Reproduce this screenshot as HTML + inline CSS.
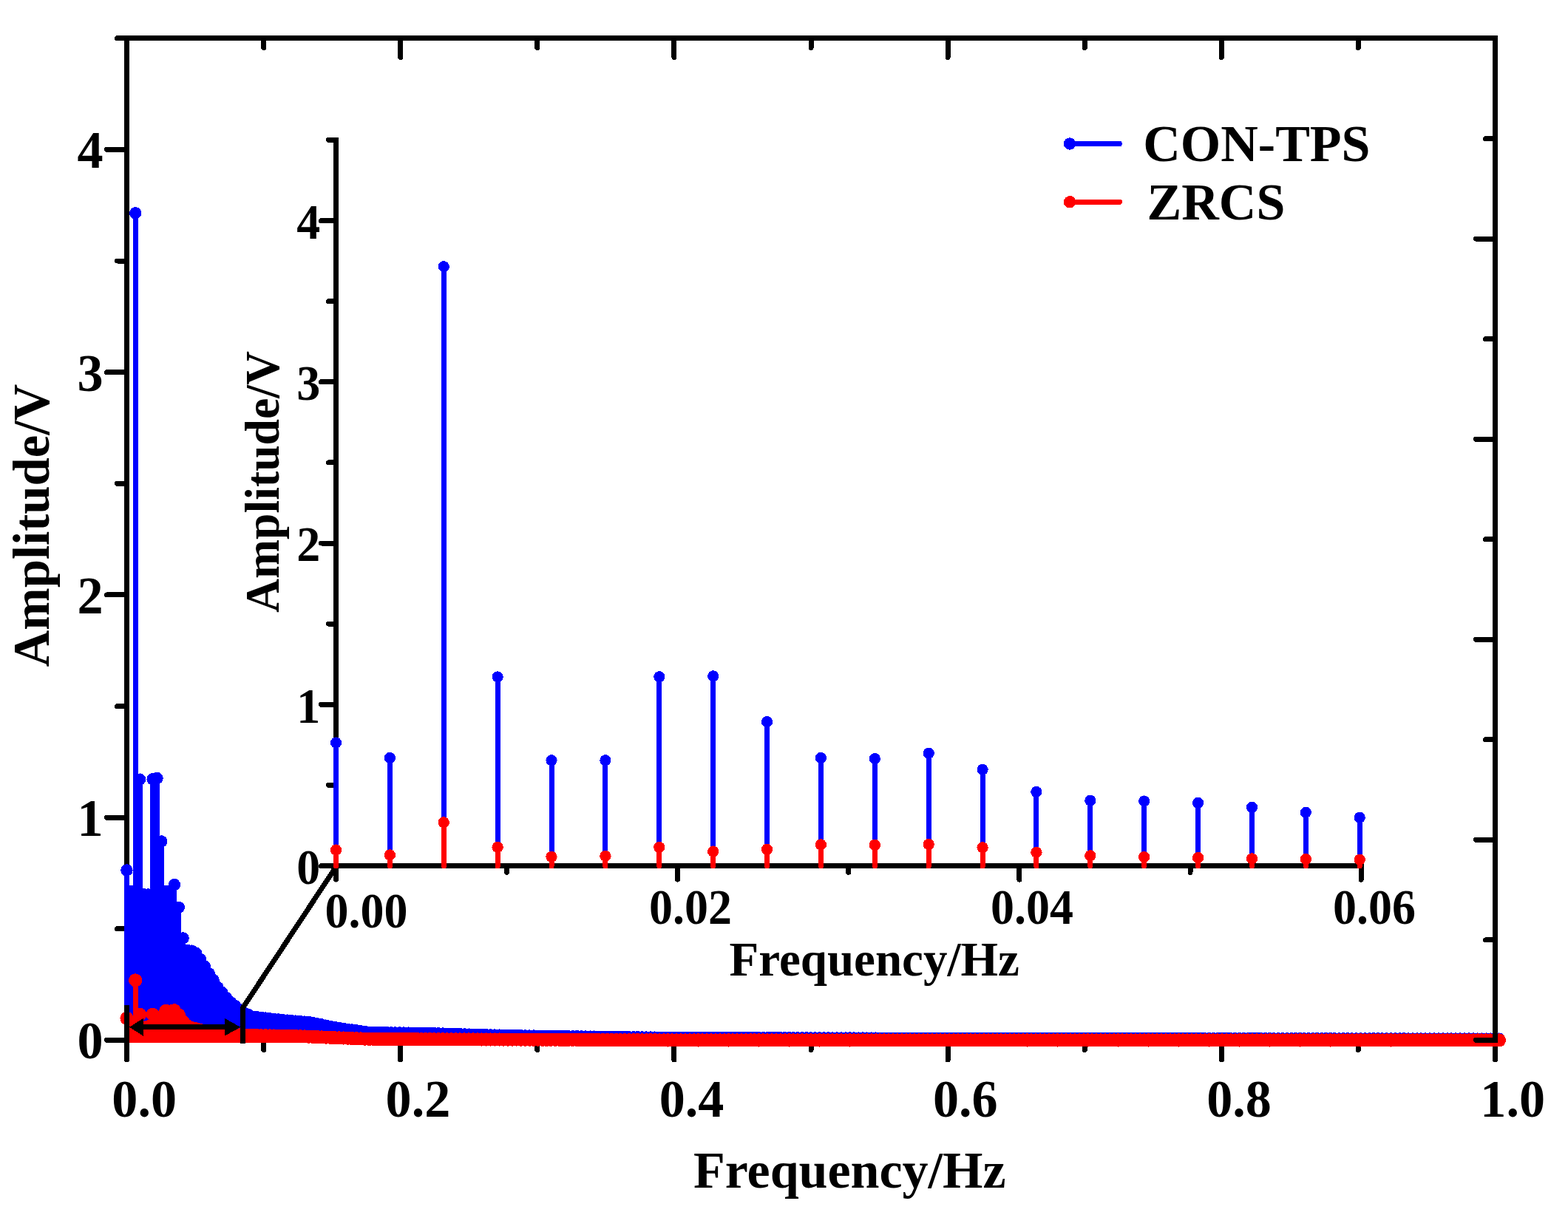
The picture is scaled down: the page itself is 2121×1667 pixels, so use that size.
<!DOCTYPE html>
<html lang="en"><head><meta charset="utf-8"><title>Amplitude spectrum</title>
<style>
html,body{margin:0;padding:0;background:#fff}
svg{display:block;shape-rendering:crispEdges}
text{font-family:"Liberation Serif","DejaVu Serif",serif;font-weight:bold;fill:#000}
.m{font-size:70px}
.i{font-size:65px}
.md{font-size:71px}
.id{font-size:67px}
.ax{stroke:#000;stroke-width:7;fill:none}
.tk{stroke:#000;stroke-width:7;stroke-linecap:round;fill:none}
</style></head>
<body>
<svg width="2121" height="1667" viewBox="0 0 2121 1667">
<rect width="2121" height="1667" fill="#fff"/>
<g id="main-axes">
<path class="ax" d="M171.5 48.1 V1410.9"/>
<path class="ax" d="M168 1407.4 H2026"/>
<path class="tk" d="M171.5 1407.4 H144.5M171.5 1256.8 H158.5M171.5 1106.2 H144.5M171.5 955.5 H158.5M171.5 804.9 H144.5M171.5 654.3 H158.5M171.5 503.7 H144.5M171.5 353 H158.5M171.5 202.4 H144.5M171.5 51.8 H158.5"/>
<path class="tk" d="M171.5 1407.4 V1434M356.6 1407.4 V1420.5M541.7 1407.4 V1434M726.8 1407.4 V1420.5M911.9 1407.4 V1434M1097 1407.4 V1420.5M1282.1 1407.4 V1434M1467.2 1407.4 V1420.5M1652.3 1407.4 V1434M1837.4 1407.4 V1420.5M2022.5 1407.4 V1434"/>
</g>
<g id="main-blue" fill="none" stroke="#0000ff">
<path stroke-width="7" stroke-linecap="butt" d="M171.5 1410.4V1177.5M177.4 1410.4V1205.9M183.2 1410.4V288.3M189.1 1410.4V1054.6M194.9 1410.4V1210.4M200.8 1410.4V1210.4M206.6 1410.4V1054.3M212.5 1410.4V1053.1M218.3 1410.4V1138.4M224.2 1410.4V1205.9M230.1 1410.4V1207.4M235.9 1410.4V1197.1M241.8 1410.4V1227.9M247.6 1410.4V1269.4M253.5 1410.4V1285.7M259.3 1410.4V1286.6M265.2 1410.4V1289.9M271.1 1410.4V1298M276.9 1410.4V1307.7M282.8 1410.4V1317.3M288.6 1410.4V1326.1M294.5 1410.4V1336M300.3 1410.4V1342.9M306.2 1410.4V1350.2M312 1410.4V1356.2M317.9 1410.4V1361M323.8 1410.4V1366.1M329.6 1410.4V1370M335.5 1410.4V1372.8M341.3 1410.4V1375.5M347.2 1410.4V1376.1M353 1410.4V1376.8M358.9 1410.4V1377.5M364.7 1410.4V1378.2M370.6 1410.4V1378.8M376.5 1410.4V1379.5M382.3 1410.4V1380.1M388.2 1410.4V1380.6M394 1410.4V1381.1M399.9 1410.4V1381.6M405.7 1410.4V1382.1M411.6 1410.4V1382.6M417.5 1410.4V1383.1M423.3 1410.4V1384.1M429.2 1410.4V1385.3M435 1410.4V1386.4M440.9 1410.4V1387.6M446.7 1410.4V1388.8M452.6 1410.4V1389.9M458.4 1410.4V1391M464.3 1410.4V1391.8M470.2 1410.4V1392.7M476 1410.4V1393.5M481.9 1410.4V1394.4M487.7 1410.4V1395.2M493.6 1410.4V1396.1M499.4 1410.4V1396.9M505.3 1410.4V1396.9M511.1 1410.4V1397M517 1410.4V1397.1M522.9 1410.4V1397.2M528.7 1410.4V1397.3M534.6 1410.4V1397.4M540.4 1410.4V1397.4M546.3 1410.4V1397.5M552.1 1410.4V1397.6M558 1410.4V1397.7M563.9 1410.4V1397.8M569.7 1410.4V1397.9M575.6 1410.4V1397.9M581.4 1410.4V1398M587.3 1410.4V1398.2M593.1 1410.4V1398.3M599 1410.4V1398.5M604.8 1410.4V1398.7M610.7 1410.4V1398.9M616.6 1410.4V1399M622.4 1410.4V1399.2M628.3 1410.4V1399.4M634.1 1410.4V1399.6M640 1410.4V1399.7M645.8 1410.4V1399.9M651.7 1410.4V1400.1M657.5 1410.4V1400.2M663.4 1410.4V1400.4M669.3 1410.4V1400.5M675.1 1410.4V1400.6M681 1410.4V1400.7M686.8 1410.4V1400.9M692.7 1410.4V1401M698.5 1410.4V1401.1M704.4 1410.4V1401.2M710.3 1410.4V1401.4M716.1 1410.4V1401.5M722 1410.4V1401.6M727.8 1410.4V1401.7M733.7 1410.4V1401.8M739.5 1410.4V1401.9M745.4 1410.4V1401.9M751.2 1410.4V1402M757.1 1410.4V1402.1M763 1410.4V1402.1M768.8 1410.4V1402.2M774.7 1410.4V1402.3M780.5 1410.4V1402.3M786.4 1410.4V1402.4M792.2 1410.4V1402.5M798.1 1410.4V1402.6M803.9 1410.4V1402.6M809.8 1410.4V1402.7M815.7 1410.4V1402.8M821.5 1410.4V1402.8M827.4 1410.4V1402.9M833.2 1410.4V1403M839.1 1410.4V1403M844.9 1410.4V1403.1M850.8 1410.4V1403.2M856.7 1410.4V1403.3M862.5 1410.4V1403.3M868.4 1410.4V1403.4M874.2 1410.4V1403.5M880.1 1410.4V1403.5M885.9 1410.4V1403.6M891.8 1410.4V1403.7M897.6 1410.4V1403.7M903.5 1410.4V1403.8M909.4 1410.4V1403.8M915.2 1410.4V1403.8M921.1 1410.4V1403.8M926.9 1410.4V1403.9M932.8 1410.4V1403.9M938.6 1410.4V1403.9M944.5 1410.4V1403.9M950.3 1410.4V1403.9M956.2 1410.4V1404M962.1 1410.4V1404M967.9 1410.4V1404M973.8 1410.4V1404M979.6 1410.4V1404M985.5 1410.4V1404M991.3 1410.4V1404.1M997.2 1410.4V1404.1M1003.1 1410.4V1404.1M1008.9 1410.4V1404.1M1014.8 1410.4V1404.1M1020.6 1410.4V1404.1M1026.5 1410.4V1404.2M1032.3 1410.4V1404.2M1038.2 1410.4V1404.2M1044 1410.4V1404.2M1049.9 1410.4V1404.2M1055.8 1410.4V1404.2M1061.6 1410.4V1404.3M1067.5 1410.4V1404.3M1073.3 1410.4V1404.3M1079.2 1410.4V1404.3M1085 1410.4V1404.3M1090.9 1410.4V1404.4M1096.7 1410.4V1404.4M1102.6 1410.4V1404.4M1108.5 1410.4V1404.4M1114.3 1410.4V1404.4M1120.2 1410.4V1404.4M1126 1410.4V1404.5M1131.9 1410.4V1404.5M1137.7 1410.4V1404.5M1143.6 1410.4V1404.5M1149.5 1410.4V1404.5M1155.3 1410.4V1404.5M1161.2 1410.4V1404.6M1167 1410.4V1404.6M1172.9 1410.4V1404.6M1178.7 1410.4V1404.6M1184.6 1410.4V1404.6M1190.4 1410.4V1404.7M1196.3 1410.4V1404.7M1202.2 1410.4V1404.7M1208 1410.4V1404.7M1213.9 1410.4V1404.7M1219.7 1410.4V1404.7M1225.6 1410.4V1404.7M1231.4 1410.4V1404.7M1237.3 1410.4V1404.7M1243.1 1410.4V1404.7M1249 1410.4V1404.7M1254.9 1410.4V1404.7M1260.7 1410.4V1404.8M1266.6 1410.4V1404.8M1272.4 1410.4V1404.8M1278.3 1410.4V1404.8M1284.1 1410.4V1404.8M1290 1410.4V1404.8M1295.9 1410.4V1404.8M1301.7 1410.4V1404.8M1307.6 1410.4V1404.8M1313.4 1410.4V1404.8M1319.3 1410.4V1404.8M1325.1 1410.4V1404.8M1331 1410.4V1404.8M1336.8 1410.4V1404.8M1342.7 1410.4V1404.8M1348.6 1410.4V1404.8M1354.4 1410.4V1404.9M1360.3 1410.4V1404.9M1366.1 1410.4V1404.9M1372 1410.4V1404.9M1377.8 1410.4V1404.9M1383.7 1410.4V1404.9M1389.5 1410.4V1404.9M1395.4 1410.4V1404.9M1401.3 1410.4V1404.9M1407.1 1410.4V1404.9M1413 1410.4V1404.9M1418.8 1410.4V1404.9M1424.7 1410.4V1404.9M1430.5 1410.4V1404.9M1436.4 1410.4V1404.9M1442.3 1410.4V1404.9M1448.1 1410.4V1405M1454 1410.4V1405M1459.8 1410.4V1405M1465.7 1410.4V1405M1471.5 1410.4V1405M1477.4 1410.4V1405M1483.2 1410.4V1405M1489.1 1410.4V1405M1495 1410.4V1405M1500.8 1410.4V1405M1506.7 1410.4V1405M1512.5 1410.4V1405M1518.4 1410.4V1405M1524.2 1410.4V1405M1530.1 1410.4V1405M1535.9 1410.4V1405.1M1541.8 1410.4V1405.1M1547.7 1410.4V1405.1M1553.5 1410.4V1405.1M1559.4 1410.4V1405.1M1565.2 1410.4V1405.1M1571.1 1410.4V1405.1M1576.9 1410.4V1405.1M1582.8 1410.4V1405.1M1588.7 1410.4V1405.1M1594.5 1410.4V1405.1M1600.4 1410.4V1405.1M1606.2 1410.4V1405.1M1612.1 1410.4V1405.1M1617.9 1410.4V1405.1M1623.8 1410.4V1405.1M1629.6 1410.4V1405.2M1635.5 1410.4V1405.2M1641.4 1410.4V1405.2M1647.2 1410.4V1405.2M1653.1 1410.4V1405.2M1658.9 1410.4V1405.2M1664.8 1410.4V1405.2M1670.6 1410.4V1405.2M1676.5 1410.4V1405.2M1682.3 1410.4V1405.2M1688.2 1410.4V1405.2M1694.1 1410.4V1405.2M1699.9 1410.4V1405.2M1705.8 1410.4V1405.2M1711.6 1410.4V1405.2M1717.5 1410.4V1405.2M1723.3 1410.4V1405.3M1729.2 1410.4V1405.3M1735.1 1410.4V1405.3M1740.9 1410.4V1405.3M1746.8 1410.4V1405.3M1752.6 1410.4V1405.3M1758.5 1410.4V1405.3M1764.3 1410.4V1405.3M1770.2 1410.4V1405.3M1776 1410.4V1405.3M1781.9 1410.4V1405.3M1787.8 1410.4V1405.3M1793.6 1410.4V1405.3M1799.5 1410.4V1405.3M1805.3 1410.4V1405.3M1811.2 1410.4V1405.4M1817 1410.4V1405.4M1822.9 1410.4V1405.4M1828.7 1410.4V1405.4M1834.6 1410.4V1405.4M1840.5 1410.4V1405.4M1846.3 1410.4V1405.4M1852.2 1410.4V1405.4M1858 1410.4V1405.4M1863.9 1410.4V1405.4M1869.7 1410.4V1405.4M1875.6 1410.4V1405.4M1881.5 1410.4V1405.4M1887.3 1410.4V1405.4M1893.2 1410.4V1405.4M1899 1410.4V1405.4M1904.9 1410.4V1405.5M1910.7 1410.4V1405.5M1916.6 1410.4V1405.5M1922.4 1410.4V1405.5M1928.3 1410.4V1405.5M1934.2 1410.4V1405.5M1940 1410.4V1405.5M1945.9 1410.4V1405.5M1951.7 1410.4V1405.5M1957.6 1410.4V1405.5M1963.4 1410.4V1405.5M1969.3 1410.4V1405.5M1975.1 1410.4V1405.5M1981 1410.4V1405.5M1986.9 1410.4V1405.5M1992.7 1410.4V1405.5M1998.6 1410.4V1405.6M2004.4 1410.4V1405.6M2010.3 1410.4V1405.6M2016.1 1410.4V1405.6M2022 1410.4V1405.6M2027.9 1410.4V1405.6"/>
<path stroke-width="16.4" stroke-linecap="round" d="M171.5 1177.5h0M177.4 1205.9h0M183.2 288.3h0M189.1 1054.6h0M194.9 1210.4h0M200.8 1210.4h0M206.6 1054.3h0M212.5 1053.1h0M218.3 1138.4h0M224.2 1205.9h0M230.1 1207.4h0M235.9 1197.1h0M241.8 1227.9h0M247.6 1269.4h0M253.5 1285.7h0M259.3 1286.6h0M265.2 1289.9h0M271.1 1298h0M276.9 1307.7h0M282.8 1317.3h0M288.6 1326.1h0M294.5 1336h0M300.3 1342.9h0M306.2 1350.2h0M312 1356.2h0M317.9 1361h0M323.8 1366.1h0M329.6 1370h0M335.5 1372.8h0M341.3 1375.5h0M347.2 1376.1h0M353 1376.8h0M358.9 1377.5h0M364.7 1378.2h0M370.6 1378.8h0M376.5 1379.5h0M382.3 1380.1h0M388.2 1380.6h0M394 1381.1h0M399.9 1381.6h0M405.7 1382.1h0M411.6 1382.6h0M417.5 1383.1h0M423.3 1384.1h0M429.2 1385.3h0M435 1386.4h0M440.9 1387.6h0M446.7 1388.8h0M452.6 1389.9h0M458.4 1391h0M464.3 1391.8h0M470.2 1392.7h0M476 1393.5h0M481.9 1394.4h0M487.7 1395.2h0M493.6 1396.1h0M499.4 1396.9h0M505.3 1396.9h0M511.1 1397h0M517 1397.1h0M522.9 1397.2h0M528.7 1397.3h0M534.6 1397.4h0M540.4 1397.4h0M546.3 1397.5h0M552.1 1397.6h0M558 1397.7h0M563.9 1397.8h0M569.7 1397.9h0M575.6 1397.9h0M581.4 1398h0M587.3 1398.2h0M593.1 1398.3h0M599 1398.5h0M604.8 1398.7h0M610.7 1398.9h0M616.6 1399h0M622.4 1399.2h0M628.3 1399.4h0M634.1 1399.6h0M640 1399.7h0M645.8 1399.9h0M651.7 1400.1h0M657.5 1400.2h0M663.4 1400.4h0M669.3 1400.5h0M675.1 1400.6h0M681 1400.7h0M686.8 1400.9h0M692.7 1401h0M698.5 1401.1h0M704.4 1401.2h0M710.3 1401.4h0M716.1 1401.5h0M722 1401.6h0M727.8 1401.7h0M733.7 1401.8h0M739.5 1401.9h0M745.4 1401.9h0M751.2 1402h0M757.1 1402.1h0M763 1402.1h0M768.8 1402.2h0M774.7 1402.3h0M780.5 1402.3h0M786.4 1402.4h0M792.2 1402.5h0M798.1 1402.6h0M803.9 1402.6h0M809.8 1402.7h0M815.7 1402.8h0M821.5 1402.8h0M827.4 1402.9h0M833.2 1403h0M839.1 1403h0M844.9 1403.1h0M850.8 1403.2h0M856.7 1403.3h0M862.5 1403.3h0M868.4 1403.4h0M874.2 1403.5h0M880.1 1403.5h0M885.9 1403.6h0M891.8 1403.7h0M897.6 1403.7h0M903.5 1403.8h0M909.4 1403.8h0M915.2 1403.8h0M921.1 1403.8h0M926.9 1403.9h0M932.8 1403.9h0M938.6 1403.9h0M944.5 1403.9h0M950.3 1403.9h0M956.2 1404h0M962.1 1404h0M967.9 1404h0M973.8 1404h0M979.6 1404h0M985.5 1404h0M991.3 1404.1h0M997.2 1404.1h0M1003.1 1404.1h0M1008.9 1404.1h0M1014.8 1404.1h0M1020.6 1404.1h0M1026.5 1404.2h0M1032.3 1404.2h0M1038.2 1404.2h0M1044 1404.2h0M1049.9 1404.2h0M1055.8 1404.2h0M1061.6 1404.3h0M1067.5 1404.3h0M1073.3 1404.3h0M1079.2 1404.3h0M1085 1404.3h0M1090.9 1404.4h0M1096.7 1404.4h0M1102.6 1404.4h0M1108.5 1404.4h0M1114.3 1404.4h0M1120.2 1404.4h0M1126 1404.5h0M1131.9 1404.5h0M1137.7 1404.5h0M1143.6 1404.5h0M1149.5 1404.5h0M1155.3 1404.5h0M1161.2 1404.6h0M1167 1404.6h0M1172.9 1404.6h0M1178.7 1404.6h0M1184.6 1404.6h0M1190.4 1404.7h0M1196.3 1404.7h0M1202.2 1404.7h0M1208 1404.7h0M1213.9 1404.7h0M1219.7 1404.7h0M1225.6 1404.7h0M1231.4 1404.7h0M1237.3 1404.7h0M1243.1 1404.7h0M1249 1404.7h0M1254.9 1404.7h0M1260.7 1404.8h0M1266.6 1404.8h0M1272.4 1404.8h0M1278.3 1404.8h0M1284.1 1404.8h0M1290 1404.8h0M1295.9 1404.8h0M1301.7 1404.8h0M1307.6 1404.8h0M1313.4 1404.8h0M1319.3 1404.8h0M1325.1 1404.8h0M1331 1404.8h0M1336.8 1404.8h0M1342.7 1404.8h0M1348.6 1404.8h0M1354.4 1404.9h0M1360.3 1404.9h0M1366.1 1404.9h0M1372 1404.9h0M1377.8 1404.9h0M1383.7 1404.9h0M1389.5 1404.9h0M1395.4 1404.9h0M1401.3 1404.9h0M1407.1 1404.9h0M1413 1404.9h0M1418.8 1404.9h0M1424.7 1404.9h0M1430.5 1404.9h0M1436.4 1404.9h0M1442.3 1404.9h0M1448.1 1405h0M1454 1405h0M1459.8 1405h0M1465.7 1405h0M1471.5 1405h0M1477.4 1405h0M1483.2 1405h0M1489.1 1405h0M1495 1405h0M1500.8 1405h0M1506.7 1405h0M1512.5 1405h0M1518.4 1405h0M1524.2 1405h0M1530.1 1405h0M1535.9 1405.1h0M1541.8 1405.1h0M1547.7 1405.1h0M1553.5 1405.1h0M1559.4 1405.1h0M1565.2 1405.1h0M1571.1 1405.1h0M1576.9 1405.1h0M1582.8 1405.1h0M1588.7 1405.1h0M1594.5 1405.1h0M1600.4 1405.1h0M1606.2 1405.1h0M1612.1 1405.1h0M1617.9 1405.1h0M1623.8 1405.1h0M1629.6 1405.2h0M1635.5 1405.2h0M1641.4 1405.2h0M1647.2 1405.2h0M1653.1 1405.2h0M1658.9 1405.2h0M1664.8 1405.2h0M1670.6 1405.2h0M1676.5 1405.2h0M1682.3 1405.2h0M1688.2 1405.2h0M1694.1 1405.2h0M1699.9 1405.2h0M1705.8 1405.2h0M1711.6 1405.2h0M1717.5 1405.2h0M1723.3 1405.3h0M1729.2 1405.3h0M1735.1 1405.3h0M1740.9 1405.3h0M1746.8 1405.3h0M1752.6 1405.3h0M1758.5 1405.3h0M1764.3 1405.3h0M1770.2 1405.3h0M1776 1405.3h0M1781.9 1405.3h0M1787.8 1405.3h0M1793.6 1405.3h0M1799.5 1405.3h0M1805.3 1405.3h0M1811.2 1405.4h0M1817 1405.4h0M1822.9 1405.4h0M1828.7 1405.4h0M1834.6 1405.4h0M1840.5 1405.4h0M1846.3 1405.4h0M1852.2 1405.4h0M1858 1405.4h0M1863.9 1405.4h0M1869.7 1405.4h0M1875.6 1405.4h0M1881.5 1405.4h0M1887.3 1405.4h0M1893.2 1405.4h0M1899 1405.4h0M1904.9 1405.5h0M1910.7 1405.5h0M1916.6 1405.5h0M1922.4 1405.5h0M1928.3 1405.5h0M1934.2 1405.5h0M1940 1405.5h0M1945.9 1405.5h0M1951.7 1405.5h0M1957.6 1405.5h0M1963.4 1405.5h0M1969.3 1405.5h0M1975.1 1405.5h0M1981 1405.5h0M1986.9 1405.5h0M1992.7 1405.5h0M1998.6 1405.6h0M2004.4 1405.6h0M2010.3 1405.6h0M2016.1 1405.6h0M2022 1405.6h0M2027.9 1405.6h0"/>
</g>
<g id="main-red" fill="none" stroke="#ff0000">
<path stroke-width="7" stroke-linecap="butt" d="M171.5 1410.6V1377.9M177.4 1410.6V1387.2M183.2 1410.6V1326.4M189.1 1410.6V1372.8M194.9 1410.6V1390.5M200.8 1410.6V1389.3M206.6 1410.6V1372.8M212.5 1410.6V1380.6M218.3 1410.6V1376.7M224.2 1410.6V1367.9M230.1 1410.6V1368.5M235.9 1410.6V1367.3M241.8 1410.6V1373.4M247.6 1410.6V1382.4M253.5 1410.6V1388.4M259.3 1410.6V1391.1M265.2 1410.6V1392.3M271.1 1410.6V1394.1M276.9 1410.6V1395M282.8 1410.6V1396M288.6 1410.6V1397.2M294.5 1410.6V1398.4M300.3 1410.6V1398.8M306.2 1410.6V1399.2M312 1410.6V1399.6M317.9 1410.6V1400M323.8 1410.6V1400.4M329.6 1410.6V1400.8M335.5 1410.6V1400.9M341.3 1410.6V1401M347.2 1410.6V1401.1M353 1410.6V1401.2M358.9 1410.6V1401.3M364.7 1410.6V1401.4M370.6 1410.6V1401.5M376.5 1410.6V1401.6M382.3 1410.6V1401.7M388.2 1410.6V1401.8M394 1410.6V1401.9M399.9 1410.6V1402M405.7 1410.6V1402.2M411.6 1410.6V1402.4M417.5 1410.6V1402.7M423.3 1410.6V1402.9M429.2 1410.6V1403.1M435 1410.6V1403.4M440.9 1410.6V1403.6M446.7 1410.6V1403.8M452.6 1410.6V1404.1M458.4 1410.6V1404.3M464.3 1410.6V1404.5M470.2 1410.6V1404.7M476 1410.6V1405M481.9 1410.6V1405.2M487.7 1410.6V1405.4M493.6 1410.6V1405.7M499.4 1410.6V1405.9M505.3 1410.6V1405.9M511.1 1410.6V1405.9M517 1410.6V1406M522.9 1410.6V1406M528.7 1410.6V1406M534.6 1410.6V1406M540.4 1410.6V1406M546.3 1410.6V1406.1M552.1 1410.6V1406.1M558 1410.6V1406.1M563.9 1410.6V1406.1M569.7 1410.6V1406.2M575.6 1410.6V1406.2M581.4 1410.6V1406.2M587.3 1410.6V1406.2M593.1 1410.6V1406.2M599 1410.6V1406.3M604.8 1410.6V1406.3M610.7 1410.6V1406.3M616.6 1410.6V1406.3M622.4 1410.6V1406.4M628.3 1410.6V1406.4M634.1 1410.6V1406.4M640 1410.6V1406.4M645.8 1410.6V1406.4M651.7 1410.6V1406.5M657.5 1410.6V1406.5M663.4 1410.6V1406.5M669.3 1410.6V1406.5M675.1 1410.6V1406.5M681 1410.6V1406.6M686.8 1410.6V1406.6M692.7 1410.6V1406.6M698.5 1410.6V1406.6M704.4 1410.6V1406.7M710.3 1410.6V1406.7M716.1 1410.6V1406.7M722 1410.6V1406.7M727.8 1410.6V1406.7M733.7 1410.6V1406.8M739.5 1410.6V1406.8M745.4 1410.6V1406.8M751.2 1410.6V1406.8M757.1 1410.6V1406.9M763 1410.6V1406.9M768.8 1410.6V1406.9M774.7 1410.6V1406.9M780.5 1410.6V1406.9M786.4 1410.6V1407M792.2 1410.6V1407M798.1 1410.6V1407M803.9 1410.6V1407M809.8 1410.6V1407.1M815.7 1410.6V1407.1M821.5 1410.6V1407.1M827.4 1410.6V1407.1M833.2 1410.6V1407.1M839.1 1410.6V1407.2M844.9 1410.6V1407.2M850.8 1410.6V1407.2M856.7 1410.6V1407.2M862.5 1410.6V1407.2M868.4 1410.6V1407.3M874.2 1410.6V1407.3M880.1 1410.6V1407.3M885.9 1410.6V1407.3M891.8 1410.6V1407.4M897.6 1410.6V1407.4M903.5 1410.6V1407.4M909.4 1410.6V1407.4M915.2 1410.6V1407.4M921.1 1410.6V1407.4M926.9 1410.6V1407.4M932.8 1410.6V1407.4M938.6 1410.6V1407.4M944.5 1410.6V1407.4M950.3 1410.6V1407.4M956.2 1410.6V1407.4M962.1 1410.6V1407.4M967.9 1410.6V1407.4M973.8 1410.6V1407.4M979.6 1410.6V1407.4M985.5 1410.6V1407.4M991.3 1410.6V1407.4M997.2 1410.6V1407.4M1003.1 1410.6V1407.4M1008.9 1410.6V1407.4M1014.8 1410.6V1407.4M1020.6 1410.6V1407.4M1026.5 1410.6V1407.4M1032.3 1410.6V1407.4M1038.2 1410.6V1407.4M1044 1410.6V1407.4M1049.9 1410.6V1407.4M1055.8 1410.6V1407.4M1061.6 1410.6V1407.4M1067.5 1410.6V1407.4M1073.3 1410.6V1407.4M1079.2 1410.6V1407.4M1085 1410.6V1407.4M1090.9 1410.6V1407.4M1096.7 1410.6V1407.4M1102.6 1410.6V1407.4M1108.5 1410.6V1407.4M1114.3 1410.6V1407.4M1120.2 1410.6V1407.4M1126 1410.6V1407.4M1131.9 1410.6V1407.4M1137.7 1410.6V1407.4M1143.6 1410.6V1407.4M1149.5 1410.6V1407.4M1155.3 1410.6V1407.4M1161.2 1410.6V1407.4M1167 1410.6V1407.4M1172.9 1410.6V1407.4M1178.7 1410.6V1407.4M1184.6 1410.6V1407.4M1190.4 1410.6V1407.4M1196.3 1410.6V1407.4M1202.2 1410.6V1407.4M1208 1410.6V1407.4M1213.9 1410.6V1407.4M1219.7 1410.6V1407.4M1225.6 1410.6V1407.4M1231.4 1410.6V1407.4M1237.3 1410.6V1407.4M1243.1 1410.6V1407.4M1249 1410.6V1407.4M1254.9 1410.6V1407.4M1260.7 1410.6V1407.4M1266.6 1410.6V1407.4M1272.4 1410.6V1407.4M1278.3 1410.6V1407.4M1284.1 1410.6V1407.4M1290 1410.6V1407.4M1295.9 1410.6V1407.4M1301.7 1410.6V1407.4M1307.6 1410.6V1407.4M1313.4 1410.6V1407.4M1319.3 1410.6V1407.4M1325.1 1410.6V1407.4M1331 1410.6V1407.4M1336.8 1410.6V1407.4M1342.7 1410.6V1407.4M1348.6 1410.6V1407.4M1354.4 1410.6V1407.4M1360.3 1410.6V1407.4M1366.1 1410.6V1407.4M1372 1410.6V1407.4M1377.8 1410.6V1407.4M1383.7 1410.6V1407.4M1389.5 1410.6V1407.4M1395.4 1410.6V1407.4M1401.3 1410.6V1407.4M1407.1 1410.6V1407.4M1413 1410.6V1407.4M1418.8 1410.6V1407.4M1424.7 1410.6V1407.4M1430.5 1410.6V1407.4M1436.4 1410.6V1407.4M1442.3 1410.6V1407.4M1448.1 1410.6V1407.4M1454 1410.6V1407.4M1459.8 1410.6V1407.4M1465.7 1410.6V1407.4M1471.5 1410.6V1407.4M1477.4 1410.6V1407.4M1483.2 1410.6V1407.4M1489.1 1410.6V1407.4M1495 1410.6V1407.4M1500.8 1410.6V1407.4M1506.7 1410.6V1407.4M1512.5 1410.6V1407.4M1518.4 1410.6V1407.4M1524.2 1410.6V1407.4M1530.1 1410.6V1407.4M1535.9 1410.6V1407.4M1541.8 1410.6V1407.4M1547.7 1410.6V1407.4M1553.5 1410.6V1407.4M1559.4 1410.6V1407.4M1565.2 1410.6V1407.4M1571.1 1410.6V1407.4M1576.9 1410.6V1407.4M1582.8 1410.6V1407.4M1588.7 1410.6V1407.4M1594.5 1410.6V1407.4M1600.4 1410.6V1407.4M1606.2 1410.6V1407.4M1612.1 1410.6V1407.4M1617.9 1410.6V1407.4M1623.8 1410.6V1407.4M1629.6 1410.6V1407.4M1635.5 1410.6V1407.4M1641.4 1410.6V1407.4M1647.2 1410.6V1407.4M1653.1 1410.6V1407.4M1658.9 1410.6V1407.4M1664.8 1410.6V1407.4M1670.6 1410.6V1407.4M1676.5 1410.6V1407.4M1682.3 1410.6V1407.4M1688.2 1410.6V1407.4M1694.1 1410.6V1407.4M1699.9 1410.6V1407.4M1705.8 1410.6V1407.4M1711.6 1410.6V1407.4M1717.5 1410.6V1407.4M1723.3 1410.6V1407.4M1729.2 1410.6V1407.4M1735.1 1410.6V1407.4M1740.9 1410.6V1407.4M1746.8 1410.6V1407.4M1752.6 1410.6V1407.4M1758.5 1410.6V1407.4M1764.3 1410.6V1407.4M1770.2 1410.6V1407.4M1776 1410.6V1407.4M1781.9 1410.6V1407.4M1787.8 1410.6V1407.4M1793.6 1410.6V1407.4M1799.5 1410.6V1407.4M1805.3 1410.6V1407.4M1811.2 1410.6V1407.4M1817 1410.6V1407.4M1822.9 1410.6V1407.4M1828.7 1410.6V1407.4M1834.6 1410.6V1407.4M1840.5 1410.6V1407.4M1846.3 1410.6V1407.4M1852.2 1410.6V1407.4M1858 1410.6V1407.4M1863.9 1410.6V1407.4M1869.7 1410.6V1407.4M1875.6 1410.6V1407.4M1881.5 1410.6V1407.4M1887.3 1410.6V1407.4M1893.2 1410.6V1407.4M1899 1410.6V1407.4M1904.9 1410.6V1407.4M1910.7 1410.6V1407.4M1916.6 1410.6V1407.4M1922.4 1410.6V1407.4M1928.3 1410.6V1407.4M1934.2 1410.6V1407.4M1940 1410.6V1407.4M1945.9 1410.6V1407.4M1951.7 1410.6V1407.4M1957.6 1410.6V1407.4M1963.4 1410.6V1407.4M1969.3 1410.6V1407.4M1975.1 1410.6V1407.4M1981 1410.6V1407.4M1986.9 1410.6V1407.4M1992.7 1410.6V1407.4M1998.6 1410.6V1407.4M2004.4 1410.6V1407.4M2010.3 1410.6V1407.4M2016.1 1410.6V1407.4M2022 1410.6V1407.4M2027.9 1410.6V1407.4"/>
<path stroke-width="18.2" stroke-linecap="round" d="M171.5 1377.9h0M177.4 1387.2h0M183.2 1326.4h0M189.1 1372.8h0M194.9 1390.5h0M200.8 1389.3h0M206.6 1372.8h0M212.5 1380.6h0M218.3 1376.7h0M224.2 1367.9h0M230.1 1368.5h0M235.9 1367.3h0M241.8 1373.4h0M247.6 1382.4h0M253.5 1388.4h0M259.3 1391.1h0M265.2 1392.3h0M271.1 1394.1h0M276.9 1395h0M282.8 1396h0M288.6 1397.2h0M294.5 1398.4h0M300.3 1398.8h0M306.2 1399.2h0M312 1399.6h0M317.9 1400h0M323.8 1400.4h0M329.6 1400.8h0M335.5 1400.9h0M341.3 1401h0M347.2 1401.1h0M353 1401.2h0M358.9 1401.3h0M364.7 1401.4h0M370.6 1401.5h0M376.5 1401.6h0M382.3 1401.7h0M388.2 1401.8h0M394 1401.9h0M399.9 1402h0M405.7 1402.2h0M411.6 1402.4h0M417.5 1402.7h0M423.3 1402.9h0M429.2 1403.1h0M435 1403.4h0M440.9 1403.6h0M446.7 1403.8h0M452.6 1404.1h0M458.4 1404.3h0M464.3 1404.5h0M470.2 1404.7h0M476 1405h0M481.9 1405.2h0M487.7 1405.4h0M493.6 1405.7h0M499.4 1405.9h0M505.3 1405.9h0M511.1 1405.9h0M517 1406h0M522.9 1406h0M528.7 1406h0M534.6 1406h0M540.4 1406h0M546.3 1406.1h0M552.1 1406.1h0M558 1406.1h0M563.9 1406.1h0M569.7 1406.2h0M575.6 1406.2h0M581.4 1406.2h0M587.3 1406.2h0M593.1 1406.2h0M599 1406.3h0M604.8 1406.3h0M610.7 1406.3h0M616.6 1406.3h0M622.4 1406.4h0M628.3 1406.4h0M634.1 1406.4h0M640 1406.4h0M645.8 1406.4h0M651.7 1406.5h0M657.5 1406.5h0M663.4 1406.5h0M669.3 1406.5h0M675.1 1406.5h0M681 1406.6h0M686.8 1406.6h0M692.7 1406.6h0M698.5 1406.6h0M704.4 1406.7h0M710.3 1406.7h0M716.1 1406.7h0M722 1406.7h0M727.8 1406.7h0M733.7 1406.8h0M739.5 1406.8h0M745.4 1406.8h0M751.2 1406.8h0M757.1 1406.9h0M763 1406.9h0M768.8 1406.9h0M774.7 1406.9h0M780.5 1406.9h0M786.4 1407h0M792.2 1407h0M798.1 1407h0M803.9 1407h0M809.8 1407.1h0M815.7 1407.1h0M821.5 1407.1h0M827.4 1407.1h0M833.2 1407.1h0M839.1 1407.2h0M844.9 1407.2h0M850.8 1407.2h0M856.7 1407.2h0M862.5 1407.2h0M868.4 1407.3h0M874.2 1407.3h0M880.1 1407.3h0M885.9 1407.3h0M891.8 1407.4h0M897.6 1407.4h0M903.5 1407.4h0M909.4 1407.4h0M915.2 1407.4h0M921.1 1407.4h0M926.9 1407.4h0M932.8 1407.4h0M938.6 1407.4h0M944.5 1407.4h0M950.3 1407.4h0M956.2 1407.4h0M962.1 1407.4h0M967.9 1407.4h0M973.8 1407.4h0M979.6 1407.4h0M985.5 1407.4h0M991.3 1407.4h0M997.2 1407.4h0M1003.1 1407.4h0M1008.9 1407.4h0M1014.8 1407.4h0M1020.6 1407.4h0M1026.5 1407.4h0M1032.3 1407.4h0M1038.2 1407.4h0M1044 1407.4h0M1049.9 1407.4h0M1055.8 1407.4h0M1061.6 1407.4h0M1067.5 1407.4h0M1073.3 1407.4h0M1079.2 1407.4h0M1085 1407.4h0M1090.9 1407.4h0M1096.7 1407.4h0M1102.6 1407.4h0M1108.5 1407.4h0M1114.3 1407.4h0M1120.2 1407.4h0M1126 1407.4h0M1131.9 1407.4h0M1137.7 1407.4h0M1143.6 1407.4h0M1149.5 1407.4h0M1155.3 1407.4h0M1161.2 1407.4h0M1167 1407.4h0M1172.9 1407.4h0M1178.7 1407.4h0M1184.6 1407.4h0M1190.4 1407.4h0M1196.3 1407.4h0M1202.2 1407.4h0M1208 1407.4h0M1213.9 1407.4h0M1219.7 1407.4h0M1225.6 1407.4h0M1231.4 1407.4h0M1237.3 1407.4h0M1243.1 1407.4h0M1249 1407.4h0M1254.9 1407.4h0M1260.7 1407.4h0M1266.6 1407.4h0M1272.4 1407.4h0M1278.3 1407.4h0M1284.1 1407.4h0M1290 1407.4h0M1295.9 1407.4h0M1301.7 1407.4h0M1307.6 1407.4h0M1313.4 1407.4h0M1319.3 1407.4h0M1325.1 1407.4h0M1331 1407.4h0M1336.8 1407.4h0M1342.7 1407.4h0M1348.6 1407.4h0M1354.4 1407.4h0M1360.3 1407.4h0M1366.1 1407.4h0M1372 1407.4h0M1377.8 1407.4h0M1383.7 1407.4h0M1389.5 1407.4h0M1395.4 1407.4h0M1401.3 1407.4h0M1407.1 1407.4h0M1413 1407.4h0M1418.8 1407.4h0M1424.7 1407.4h0M1430.5 1407.4h0M1436.4 1407.4h0M1442.3 1407.4h0M1448.1 1407.4h0M1454 1407.4h0M1459.8 1407.4h0M1465.7 1407.4h0M1471.5 1407.4h0M1477.4 1407.4h0M1483.2 1407.4h0M1489.1 1407.4h0M1495 1407.4h0M1500.8 1407.4h0M1506.7 1407.4h0M1512.5 1407.4h0M1518.4 1407.4h0M1524.2 1407.4h0M1530.1 1407.4h0M1535.9 1407.4h0M1541.8 1407.4h0M1547.7 1407.4h0M1553.5 1407.4h0M1559.4 1407.4h0M1565.2 1407.4h0M1571.1 1407.4h0M1576.9 1407.4h0M1582.8 1407.4h0M1588.7 1407.4h0M1594.5 1407.4h0M1600.4 1407.4h0M1606.2 1407.4h0M1612.1 1407.4h0M1617.9 1407.4h0M1623.8 1407.4h0M1629.6 1407.4h0M1635.5 1407.4h0M1641.4 1407.4h0M1647.2 1407.4h0M1653.1 1407.4h0M1658.9 1407.4h0M1664.8 1407.4h0M1670.6 1407.4h0M1676.5 1407.4h0M1682.3 1407.4h0M1688.2 1407.4h0M1694.1 1407.4h0M1699.9 1407.4h0M1705.8 1407.4h0M1711.6 1407.4h0M1717.5 1407.4h0M1723.3 1407.4h0M1729.2 1407.4h0M1735.1 1407.4h0M1740.9 1407.4h0M1746.8 1407.4h0M1752.6 1407.4h0M1758.5 1407.4h0M1764.3 1407.4h0M1770.2 1407.4h0M1776 1407.4h0M1781.9 1407.4h0M1787.8 1407.4h0M1793.6 1407.4h0M1799.5 1407.4h0M1805.3 1407.4h0M1811.2 1407.4h0M1817 1407.4h0M1822.9 1407.4h0M1828.7 1407.4h0M1834.6 1407.4h0M1840.5 1407.4h0M1846.3 1407.4h0M1852.2 1407.4h0M1858 1407.4h0M1863.9 1407.4h0M1869.7 1407.4h0M1875.6 1407.4h0M1881.5 1407.4h0M1887.3 1407.4h0M1893.2 1407.4h0M1899 1407.4h0M1904.9 1407.4h0M1910.7 1407.4h0M1916.6 1407.4h0M1922.4 1407.4h0M1928.3 1407.4h0M1934.2 1407.4h0M1940 1407.4h0M1945.9 1407.4h0M1951.7 1407.4h0M1957.6 1407.4h0M1963.4 1407.4h0M1969.3 1407.4h0M1975.1 1407.4h0M1981 1407.4h0M1986.9 1407.4h0M1992.7 1407.4h0M1998.6 1407.4h0M2004.4 1407.4h0M2010.3 1407.4h0M2016.1 1407.4h0M2022 1407.4h0M2027.9 1407.4h0"/>
</g>
<g id="main-axes-2">
<path class="ax" d="M168 51.6 H2026"/>
<path class="ax" d="M2022.5 48.1 V1410.9"/>
<path class="tk" d="M356.6 51.6 V64.5M541.7 51.6 V77.5M726.8 51.6 V64.5M911.9 51.6 V77.5M1097 51.6 V64.5M1282.1 51.6 V77.5M1467.2 51.6 V64.5M1652.3 51.6 V77.5M1837.4 51.6 V64.5M2022.5 1407.4 H1996.5M2022.5 1271.9 H2009.5M2022.5 1136.3 H1996.5M2022.5 1000.8 H2009.5M2022.5 865.2 H1996.5M2022.5 729.7 H2009.5M2022.5 594.2 H1996.5M2022.5 458.6 H2009.5M2022.5 323.1 H1996.5M2022.5 187.5 H2009.5"/>
</g>
<g id="annot" stroke="#000" fill="none" stroke-width="7">
<path d="M171.5 1360V1412M328.6 1362V1412"/>
<path stroke-linecap="round" d="M171.5 1400V1434"/>
<path d="M190 1389.8H308"/>
<path fill="#000" stroke="none" d="M175 1389.8L193.5 1378V1401.5ZM325.5 1389.8L304 1378V1401.5Z"/>
<path d="M328.6 1363.5L455 1172"/>
</g>
<g id="inset-axes">
<path class="ax" d="M454.5 186 V1174.8"/>
<path class="ax" stroke-width="6.6" d="M451 1171.5 H1844.6"/>
<path class="tk" d="M454.5 1171.5 H434.5M454.5 1062.4 H444.5M454.5 953.2 H434.5M454.5 844.1 H444.5M454.5 735 H434.5M454.5 625.9 H444.5M454.5 516.8 H434.5M454.5 407.6 H444.5M454.5 298.5 H434.5M454.5 189.4 H444.5M454.5 1171.5 V1190.1M685.6 1171.5 V1180.3M916.7 1171.5 V1190.1M1147.8 1171.5 V1180.3M1378.9 1171.5 V1190.1M1610 1171.5 V1180.3M1841.1 1171.5 V1190.1"/>
</g>
<g id="inset-blue" fill="none" stroke="#0000ff">
<path stroke-width="7" stroke-linecap="butt" d="M454.5 1171.5V1005M527.4 1171.5V1025.5M600.3 1171.5V360.7M673.1 1171.5V915.9M746 1171.5V1028.8M818.9 1171.5V1028.8M891.8 1171.5V915.7M964.7 1171.5V914.8M1037.5 1171.5V976.6M1110.4 1171.5V1025.5M1183.3 1171.5V1026.6M1256.2 1171.5V1019.2M1329.1 1171.5V1041.4M1401.9 1171.5V1071.5M1474.8 1171.5V1083.3M1547.7 1171.5V1084M1620.6 1171.5V1086.4M1693.5 1171.5V1092.3M1766.3 1171.5V1099.3M1839.2 1171.5V1106.2"/>
<path stroke-width="15.2" stroke-linecap="round" d="M454.5 1005h0M527.4 1025.5h0M600.3 360.7h0M673.1 915.9h0M746 1028.8h0M818.9 1028.8h0M891.8 915.7h0M964.7 914.8h0M1037.5 976.6h0M1110.4 1025.5h0M1183.3 1026.6h0M1256.2 1019.2h0M1329.1 1041.4h0M1401.9 1071.5h0M1474.8 1083.3h0M1547.7 1084h0M1620.6 1086.4h0M1693.5 1092.3h0M1766.3 1099.3h0M1839.2 1106.2h0"/>
</g>
<g id="inset-red" fill="none" stroke="#ff0000">
<path stroke-width="7" stroke-linecap="round" d="M454.5 1172V1150.1M527.4 1172V1156.9M600.3 1172V1112.8M673.1 1172V1146.4M746 1172V1159.3M818.9 1172V1158.4M891.8 1172V1146.4M964.7 1172V1152.1M1037.5 1172V1149.2M1110.4 1172V1142.9M1183.3 1172V1143.3M1256.2 1172V1142.5M1329.1 1172V1146.8M1401.9 1172V1153.4M1474.8 1172V1157.8M1547.7 1172V1159.7M1620.6 1172V1160.6M1693.5 1172V1161.9M1766.3 1172V1162.6M1839.2 1172V1163.2"/>
<path stroke-width="15.3" stroke-linecap="round" d="M454.5 1150.1h0M527.4 1156.9h0M600.3 1112.8h0M673.1 1146.4h0M746 1159.3h0M818.9 1158.4h0M891.8 1146.4h0M964.7 1152.1h0M1037.5 1149.2h0M1110.4 1142.9h0M1183.3 1143.3h0M1256.2 1142.5h0M1329.1 1146.8h0M1401.9 1153.4h0M1474.8 1157.8h0M1547.7 1159.7h0M1620.6 1160.6h0M1693.5 1161.9h0M1766.3 1162.6h0M1839.2 1163.2h0"/>
</g>
<g id="legend" fill="none" stroke-linecap="round">
<path stroke="#0000ff" stroke-width="7.5" d="M1447 194.5H1514.2"/><path stroke="#0000ff" stroke-width="16.5" d="M1447.1 194.5h0"/>
<path stroke="#ff0000" stroke-width="7.5" d="M1447 273.3H1514.2"/><path stroke="#ff0000" stroke-width="16.5" d="M1447.1 273.3h0"/>
</g>
<g id="labels">
<text class="m" x="1546.3" y="217.7" text-anchor="start">CON-TPS</text>
<text class="m" x="1551.6" y="296.9" text-anchor="start">ZRCS</text>
<text class="md" transform="translate(139.5 1432.4) scale(0.988 1)" text-anchor="end">0</text>
<text class="md" transform="translate(139.5 1131.2) scale(0.988 1)" text-anchor="end">1</text>
<text class="md" transform="translate(139.5 829.9) scale(0.988 1)" text-anchor="end">2</text>
<text class="md" transform="translate(139.5 528.7) scale(0.988 1)" text-anchor="end">3</text>
<text class="md" transform="translate(139.5 227.4) scale(0.988 1)" text-anchor="end">4</text>
<text class="md" transform="translate(195.2 1511.1) scale(0.988 1)" text-anchor="middle">0.0</text>
<text class="md" transform="translate(565.4 1511.1) scale(0.988 1)" text-anchor="middle">0.2</text>
<text class="md" transform="translate(935.6 1511.1) scale(0.988 1)" text-anchor="middle">0.4</text>
<text class="md" transform="translate(1305.8 1511.1) scale(0.988 1)" text-anchor="middle">0.6</text>
<text class="md" transform="translate(1676 1511.1) scale(0.988 1)" text-anchor="middle">0.8</text>
<text class="md" transform="translate(2046.2 1511.1) scale(0.988 1)" text-anchor="middle">1.0</text>
<text class="m" x="1149.3" y="1607.4" text-anchor="middle">Frequency/Hz</text>
<text class="m" text-anchor="middle" transform="translate(66.2 711.1) rotate(-90) scale(0.9845 1)">Amplitude/V</text>
<text class="id" transform="translate(433.3 1195.9) scale(0.955 1)" text-anchor="end">0</text>
<text class="id" transform="translate(433.3 977.6) scale(0.955 1)" text-anchor="end">1</text>
<text class="id" transform="translate(433.3 759.4) scale(0.955 1)" text-anchor="end">2</text>
<text class="id" transform="translate(433.3 541.1) scale(0.955 1)" text-anchor="end">3</text>
<text class="id" transform="translate(433.3 322.9) scale(0.955 1)" text-anchor="end">4</text>
<text class="id" transform="translate(495.5 1255) scale(0.955 1)" text-anchor="middle">0.00</text>
<text class="id" transform="translate(933.9 1249.9) scale(0.955 1)" text-anchor="middle">0.02</text>
<text class="id" transform="translate(1396 1249.9) scale(0.955 1)" text-anchor="middle">0.04</text>
<text class="id" transform="translate(1858.9 1249.9) scale(0.955 1)" text-anchor="middle">0.06</text>
<text class="i" x="1182.7" y="1319.6" text-anchor="middle">Frequency/Hz</text>
<text class="i" text-anchor="middle" transform="translate(376.7 652) rotate(-90) scale(0.98 1)">Amplitude/V</text>
</g>
</svg>
</body></html>
